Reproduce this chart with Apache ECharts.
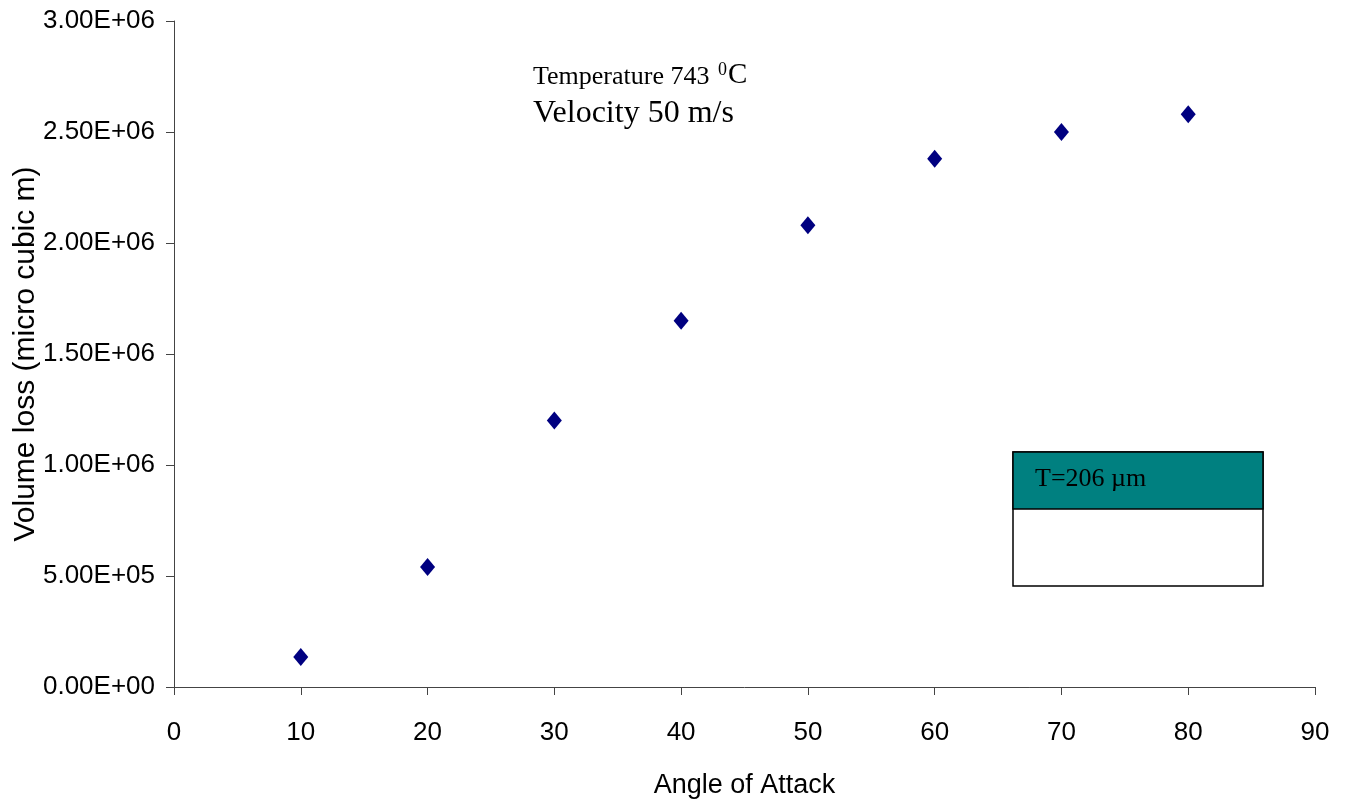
<!DOCTYPE html>
<html>
<head>
<meta charset="utf-8">
<script src="https://cdn.jsdelivr.net/npm/echarts@6/dist/echarts.min.js"></script>
<style>
  html, body { margin: 0; padding: 0; background: #fff; }
  #chart { width: 1353px; height: 808px; }
</style>
</head>
<body>
<div id="chart"></div>
<script>
// Angle of attack (degrees)
const angles = [10, 20, 30, 40, 50, 60, 70, 80];
// Volume loss (micro cubic m)
const volumeLoss = [1.35e5, 5.4e5, 1.2e6, 1.65e6, 2.08e6, 2.38e6, 2.50e6, 2.58e6];
// Axis ticks
const xTicks = [0, 10, 20, 30, 40, 50, 60, 70, 80, 90];
const yTicks = [0, 5e5, 1e6, 1.5e6, 2e6, 2.5e6, 3e6];

function sci(v) {
  if (v === 0) return '0.00E+00';
  const e = Math.floor(Math.log10(Math.abs(v)));
  const m = v / Math.pow(10, e);
  return m.toFixed(2) + 'E+' + String(e).padStart(2, '0');
}

const chart = echarts.init(document.getElementById('chart'), null, { renderer: 'canvas' });

const sans = '"Liberation Sans", Arial, sans-serif';
const serif = '"Liberation Serif", "Times New Roman", serif';
const axisFont = { fontFamily: sans, fontSize: 26, color: '#000' };

chart.setOption({
  backgroundColor: '#fff',
  animation: false,
  grid: { left: 174, right: 38, top: 21, bottom: 121, outerBoundsMode: 'none' },
  xAxis: {
    type: 'value',
    min: xTicks[0],
    max: xTicks[xTicks.length - 1],
    interval: 10,
    name: 'Angle of Attack',
    nameLocation: 'middle',
    nameGap: 85,
    nameMoveOverlap: false,
    nameTextStyle: { fontFamily: sans, fontSize: 27, color: '#000' },
    axisLine: { show: true, lineStyle: { color: '#444', width: 1 } },
    axisTick: { show: true, length: 8, lineStyle: { color: '#444' } },
    axisLabel: Object.assign({ margin: 33 }, axisFont),
    splitLine: { show: false }
  },
  yAxis: {
    type: 'value',
    min: yTicks[0],
    max: yTicks[yTicks.length - 1],
    interval: 5e5,
    name: 'Volume loss (micro cubic m)',
    nameLocation: 'middle',
    nameGap: 133,
    nameMoveOverlap: false,
    nameRotate: 90,
    nameTextStyle: { fontFamily: sans, fontSize: 30, color: '#000' },
    axisLine: { show: true, lineStyle: { color: '#444', width: 1 } },
    axisTick: { show: true, length: 8, lineStyle: { color: '#444' } },
    axisLabel: Object.assign({ margin: 19, formatter: sci }, axisFont),
    splitLine: { show: false }
  },
  series: [{
    type: 'scatter',
    name: 'T=206 µm',
    symbol: 'diamond',
    symbolSize: [15, 18],
    itemStyle: { color: '#000080', opacity: 1 },
    emphasis: { disabled: true },
    data: angles.map((a, i) => [a, volumeLoss[i]])
  }],
  graphic: [
    // Test conditions note
    { type: 'text', x: 533, y: 64, style: { text: 'Temperature 743', font: '26px ' + serif, fill: '#000' } },
    { type: 'text', x: 718, y: 61, style: { text: '0', font: '18px ' + serif, fill: '#000' } },
    { type: 'text', x: 728, y: 61, style: { text: 'C', font: '29px ' + serif, fill: '#000' } },
    { type: 'text', x: 533, y: 98, style: { text: 'Velocity 50 m/s', font: '32px ' + serif, fill: '#000' } },
    // Series key box
    {
      type: 'group',
      x: 1013,
      y: 452,
      children: [
        { type: 'rect', shape: { x: 0, y: 0, width: 250, height: 134 }, style: { fill: '#fff', stroke: '#000', lineWidth: 1.5 } },
        { type: 'rect', shape: { x: 0, y: 0, width: 250, height: 57 }, style: { fill: '#008080', stroke: '#000', lineWidth: 1.5 } },
        { type: 'text', x: 22, y: 14, style: { text: 'T=206 µm', font: '26px ' + serif, fill: '#000' } }
      ]
    }
  ]
});
</script>
</body>
</html>
